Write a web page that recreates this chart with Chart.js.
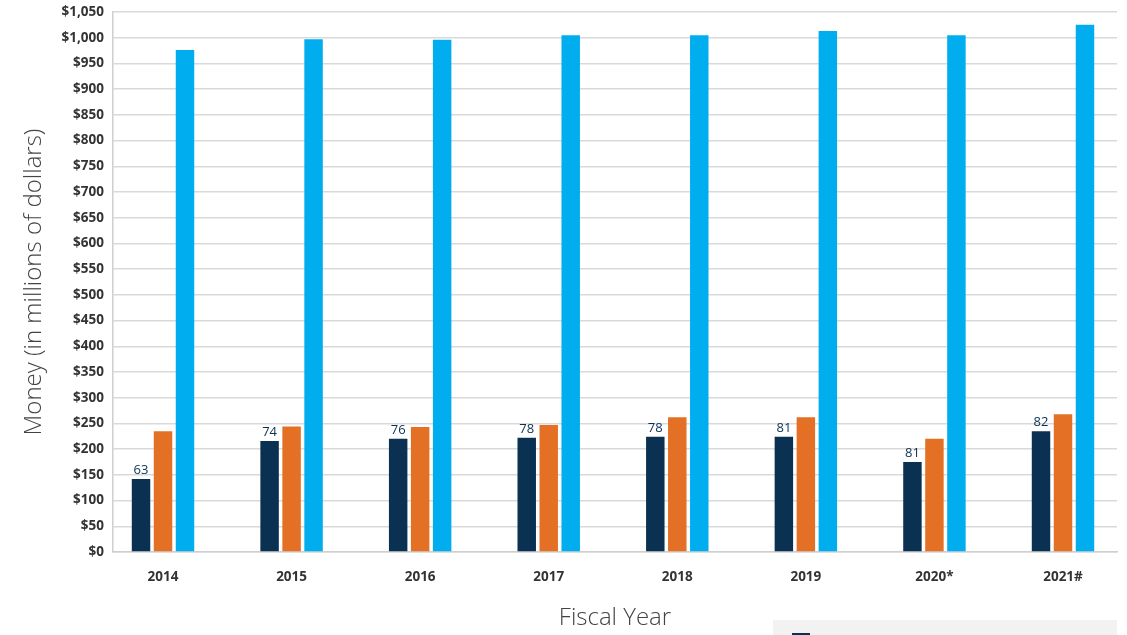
<!DOCTYPE html>
<html>
<head>
<meta charset="utf-8">
<script src="https://cdn.jsdelivr.net/npm/chart.js@4/dist/chart.umd.min.js"></script>
<style>
  body { margin: 0; background: #fff; }
  #wrap { width: 1127px; height: 635px; position: relative; }
</style>
</head>
<body>
<div id="wrap"><canvas id="chart"></canvas></div>
<script>
// values (millions of dollars)
var years = ['2014', '2015', '2016', '2017', '2018', '2019', '2020*', '2021#'];
var navyValues = [142, 216, 220, 222, 224, 224, 175, 235];
var orangeValues = [235, 244, 243, 247, 262, 262, 220, 268];
var blueValues = [976, 997, 996, 1005, 1005, 1013, 1005, 1025];
var navyCounts = [63, 74, 76, 78, 78, 81, 81, 82];
var yTicks = [0, 1050, 50];

var NAVY = '#0b3152';
var ORANGE = '#e37025';
var BLUE = '#00aeef';

function points(vals) {
    var out = [];
    for (var i = 0; i < vals.length; i++) {
        out.push({x: i, y: vals[i]});
    }
    return out;
}

// numbers above the navy bars
var countLabels = {
    id: 'countLabels',
    afterDatasetsDraw: function (chart) {
        var ctx = chart.ctx;
        var meta = chart.getDatasetMeta(0);
        ctx.save();
        ctx.fillStyle = NAVY;
        ctx.font = '500 13px "Open Sans", sans-serif';
        ctx.textAlign = 'center';
        ctx.textBaseline = 'bottom';
        for (var i = 0; i < meta.data.length; i++) {
            var bar = meta.data[i];
            ctx.fillText(navyCounts[i], bar.x, bar.y - 2);
        }
        ctx.restore();
    }
};

// the top edge of the legend panel, cut off by the picture
var legendPanel = {
    id: 'legendPanel',
    afterDraw: function (chart) {
        var ctx = chart.ctx;
        var right = chart.chartArea.right;
        var h = chart.height;
        ctx.save();
        ctx.fillStyle = '#f2f2f2';
        ctx.fillRect(right - 344, h - 15, 344, 15);
        ctx.fillStyle = NAVY;
        ctx.fillRect(right - 325, h - 2, 18, 2);
        ctx.restore();
    }
};

var tickFont = {family: '"Open Sans", sans-serif', size: 13.5, weight: '700'};
var titleFont = {family: '"Open Sans", sans-serif', size: 24, weight: '300'};

new Chart(document.getElementById('chart'), {
    type: 'bar',
    data: {
        datasets: [{
            label: 'Series A',
            data: points(navyValues),
            backgroundColor: NAVY
        }, {
            label: 'Series B',
            data: points(orangeValues),
            backgroundColor: ORANGE
        }, {
            label: 'Series C',
            data: points(blueValues),
            backgroundColor: BLUE
        }]
    },
    options: {
        responsive: true,
        maintainAspectRatio: false,
        animation: false,
        categoryPercentage: 0.513,
        barPercentage: 0.84,
        layout: {padding: {left: 0, right: 10, top: 0, bottom: 0}},
        plugins: {
            legend: {display: false},
            tooltip: {enabled: false}
        },
        scales: {
            x: {
                type: 'linear',
                offset: false,
                min: -0.389,
                max: 7.42,
                grid: {display: false, drawTicks: false, offset: false},
                border: {color: '#cfcfcf', width: 1.5},
                ticks: {
                    stepSize: 1,
                    includeBounds: false,
                    autoSkip: false,
                    maxRotation: 0,
                    padding: 17,
                    color: '#333',
                    font: tickFont,
                    callback: function (v) {
                        return Number.isInteger(v) ? years[v] : '';
                    }
                },
                title: {
                    display: true,
                    text: 'Fiscal Year',
                    color: '#444',
                    font: titleFont,
                    padding: {top: 2, bottom: 2}
                },
                afterFit: function (scale) { scale.height = 83; }
            },
            y: {
                min: yTicks[0],
                max: yTicks[1],
                grid: {color: '#d9d9d9', lineWidth: 1.5, drawTicks: false},
                border: {color: '#cfcfcf', width: 1.5},
                ticks: {
                    stepSize: yTicks[2],
                    padding: 9,
                    color: '#333',
                    font: tickFont,
                    callback: function (v) { return '$' + v.toLocaleString('en-US'); }
                },
                title: {
                    display: true,
                    text: 'Money (in millions of dollars)',
                    color: '#444',
                    font: titleFont,
                    padding: {top: 20, bottom: 0}
                },
                afterFit: function (scale) {
                    scale.width = 113;
                    scale.paddingTop = 12;
                }
            }
        }
    },
    plugins: [countLabels, legendPanel]
});
</script>
</body>
</html>
